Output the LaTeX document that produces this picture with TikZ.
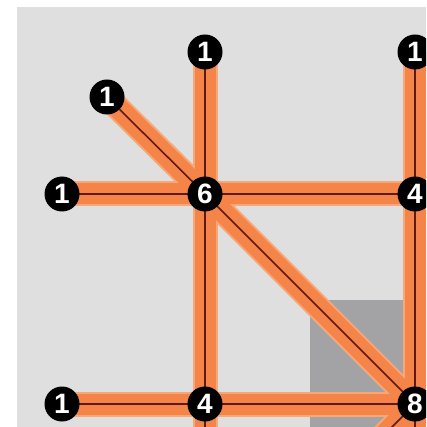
\documentclass[tikz,border=0pt]{standalone}
\usepackage{fontspec}
\setmainfont{Liberation Sans}
\definecolor{bglight}{RGB}{223,223,223}
\definecolor{sqgray}{RGB}{163,163,165}
\definecolor{orng}{RGB}{244,132,72}
\definecolor{orngedge}{RGB}{247,168,120}
\definecolor{darkred}{RGB}{95,25,25}
\begin{document}
\begin{tikzpicture}[x=1pt,y=-1pt,
  bandedge/.style={line width=25pt, draw=orngedge},
  band/.style={line width=21pt, draw=orng},
  core/.style={line width=1.6pt, draw=darkred},
  vtx/.style={circle, fill=black, minimum size=35pt, inner sep=0pt, text=white,
    font=\fontsize{28}{28}\selectfont\bfseries}]
\useasboundingbox (0,0) rectangle (426,427);
\clip (0,0) rectangle (426,427);
\fill[white] (0,0) rectangle (426,427);
\fill[bglight] (17,7) rectangle (426,427);
\fill[sqgray] (310,300) rectangle (415,427);
\coordinate (p1t) at (205,52);
\coordinate (p1tr) at (415,52);
\coordinate (p1d) at (107,97);
\coordinate (p1l) at (62,194);
\coordinate (p6) at (205,194);
\coordinate (p4r) at (415,194);
\coordinate (p1bl) at (62,404);
\coordinate (p4b) at (205,404);
\coordinate (p8) at (415,404);
\coordinate (e4b) at (205,445);
\coordinate (e8v) at (415,445);
\coordinate (e8d) at (375,444);
\foreach \s in {bandedge,band,core}{
  \draw[\s] (p1t) -- (p6);
  \draw[\s] (p1d) -- (p6);
  \draw[\s] (p1l) -- (p6);
  \draw[\s] (p6) -- (p4r);
  \draw[\s] (p1tr) -- (p4r);
  \draw[\s] (p6) -- (p4b);
  \draw[\s] (p6) -- (p8);
  \draw[\s] (p4r) -- (p8);
  \draw[\s] (p1bl) -- (p4b);
  \draw[\s] (p4b) -- (p8);
  \draw[\s] (p4b) -- (e4b);
  \draw[\s] (p8) -- (e8v);
  \draw[\s] (p8) -- (e8d);
}
\node[vtx] (n1t) at (p1t) {1};
\node[vtx] (n1tr) at (p1tr) {1};
\node[vtx] (n1d) at (p1d) {1};
\node[vtx] (n1l) at (p1l) {1};
\node[vtx] (n6) at (p6) {6};
\node[vtx] (n4r) at (p4r) {4};
\node[vtx] (n1bl) at (p1bl) {1};
\node[vtx] (n4b) at (p4b) {4};
\node[vtx] (n8) at (p8) {8};
\end{tikzpicture}
\end{document}
